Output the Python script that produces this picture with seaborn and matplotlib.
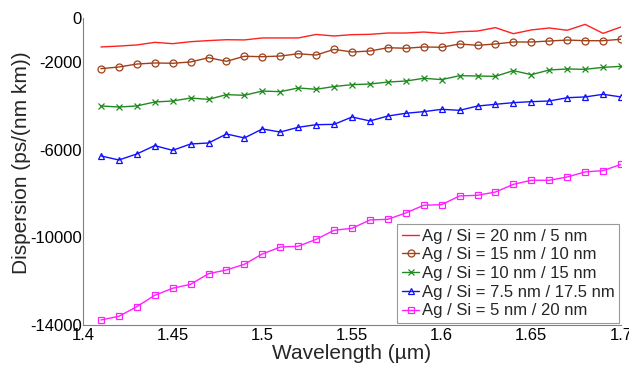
import pandas as pd
import seaborn as sns
import matplotlib
matplotlib.use("Agg")
import matplotlib.pyplot as plt

# wavelength grid (um)
wavelength = [1.41, 1.42, 1.43, 1.44, 1.45, 1.46, 1.47, 1.48, 1.49, 1.50,
              1.51, 1.52, 1.53, 1.54, 1.55, 1.56, 1.57, 1.58, 1.59, 1.60,
              1.61, 1.62, 1.63, 1.64, 1.65, 1.66, 1.67, 1.68, 1.69, 1.70]

# dispersion (ps/(nm km))
d_20_5 = [-1320, -1280, -1230, -1110, -1170, -1080, -1030, -990, -1000, -910,
          -910, -910, -750, -820, -760, -745, -685, -685, -640, -700,
          -625, -595, -440, -715, -545, -455, -560, -290, -700, -410]
d_15_10 = [-2310, -2235, -2100, -2050, -2065, -2005, -1810, -1975, -1745, -1765,
           -1735, -1630, -1690, -1430, -1550, -1505, -1355, -1380, -1320, -1335,
           -1185, -1245, -1185, -1095, -1095, -1050, -1005, -1035, -1035, -970]
d_10_15 = [-4010, -4060, -4010, -3830, -3785, -3650, -3710, -3495, -3525, -3330,
           -3360, -3190, -3250, -3125, -3040, -3010, -2920, -2875, -2750, -2810,
           -2630, -2645, -2660, -2400, -2585, -2370, -2325, -2340, -2250, -2205]
d_75_175 = [-6290, -6475, -6200, -5820, -6035, -5745, -5700, -5290, -5470, -5060,
            -5200, -4985, -4865, -4850, -4515, -4695, -4470, -4345, -4270, -4165,
            -4210, -4015, -3935, -3860, -3815, -3785, -3635, -3600, -3480, -3600]
d_5_20 = [-13770, -13605, -13165, -12645, -12325, -12145, -11660, -11490, -11230, -10760,
          -10445, -10410, -10095, -9680, -9590, -9210, -9180, -8890, -8540, -8510,
          -8115, -8085, -7935, -7585, -7400, -7400, -7250, -7020, -6960, -6675]

labels = ["Ag / Si = 20 nm / 5 nm",
          "Ag / Si = 15 nm / 10 nm",
          "Ag / Si = 10 nm / 15 nm",
          "Ag / Si = 7.5 nm / 17.5 nm",
          "Ag / Si = 5 nm / 20 nm"]
series = [d_20_5, d_15_10, d_10_15, d_75_175, d_5_20]
colors = ["#ff2020", "#a0401a", "#208a20", "#1010ff", "#ff20ff"]
markers = [None, "o", "x", "^", "s"]

xticks = [1.4, 1.45, 1.5, 1.55, 1.6, 1.65, 1.7]
xticklabels = ["1.4", "1.45", "1.5", "1.55", "1.6", "1.65", "1.7"]
yticks = [0, -2000, -6000, -10000, -14000]
yticklabels = ["0", "-2000", "-6000", "-10000", "-14000"]

sns.set_style("white")
plt.rcParams["font.family"] = ["Liberation Sans", "DejaVu Sans"]

fig = plt.figure(figsize=(6.29, 3.71), dpi=100)
ax = fig.add_axes([83 / 629, 1 - 325 / 371, 538 / 629, 307 / 371])

for vals, lab, col, mk in zip(series, labels, colors, markers):
    df = pd.DataFrame({"wl": wavelength, "D": vals})
    kw = dict(marker=mk, markersize=5, markerfacecolor="none",
              markeredgecolor=col, markeredgewidth=0.9) if mk else {}
    sns.lineplot(data=df, x="wl", y="D", ax=ax, color=col, linewidth=1.0,
                 label=lab, **kw)

ax.set_xlim(1.4, 1.7)
ax.set_ylim(-14000, 0)
ax.set_xticks(xticks)
ax.set_xticklabels(xticklabels)
ax.set_yticks(yticks)
ax.set_yticklabels(yticklabels)
ax.tick_params(direction="in", length=4, width=0.8, colors="#808080",
               labelcolor="black", labelsize=12)
ax.tick_params(axis="y", pad=1)
ax.tick_params(axis="x", pad=2)

for side in ["top", "right"]:
    ax.spines[side].set_visible(False)
for side in ["left", "bottom"]:
    ax.spines[side].set_color("#808080")
    ax.spines[side].set_linewidth(0.8)

ax.set_xlabel("Wavelength (\u00b5m)", fontsize=15, labelpad=1)
ax.set_ylabel("Dispersion (ps/(nm km))", fontsize=15)
ax.yaxis.set_label_coords(-0.097, 0.53)

leg = ax.legend(loc="lower right", fontsize=12, frameon=True, fancybox=False,
                borderaxespad=0.1, handlelength=1.0, handletextpad=0.15,
                labelspacing=0.22, borderpad=0.3)
leg.get_frame().set_edgecolor("#808080")
leg.get_frame().set_linewidth(0.8)

fig.savefig("out.png", dpi=100)
plt.close(fig)
